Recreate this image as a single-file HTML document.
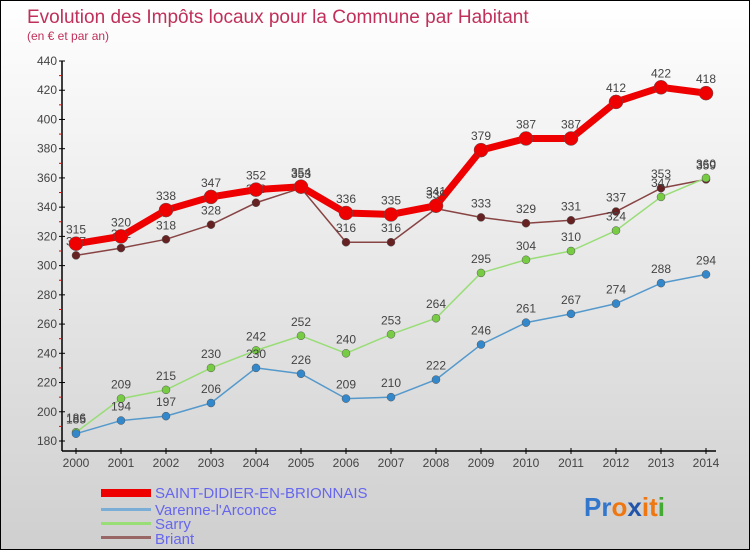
<!DOCTYPE html>
<html><head><meta charset="utf-8"><style>
body{margin:0}
#c{width:748px;height:548px;border:1px solid #000;background:linear-gradient(#fff,#cfcfcf);position:relative;font-family:"Liberation Sans",sans-serif;overflow:hidden}
</style></head><body>
<div id="c">
<svg width="748" height="548" id="svg" style="position:absolute;left:0;top:0">
<text x="26" y="22" font-size="19" fill="#c0305a">Evolution des Impôts locaux pour la Commune par Habitant</text>
<text x="26" y="39" font-size="12" fill="#c0305a">(en € et par an)</text>
<g id="axes"></g><g id="series"></g>
<g>
<rect x="100" y="488" width="50" height="8" fill="#ee0000"/>
<text x="154" y="497" font-size="15" fill="#6666ee">SAINT-DIDIER-EN-BRIONNAIS</text>
<rect x="100" y="507" width="50" height="3" fill="#7aaed6"/>
<text x="154" y="514" font-size="15" fill="#6666ee">Varenne-l'Arconce</text>
<rect x="100" y="521" width="50" height="3" fill="#99dd77"/>
<text x="154" y="528" font-size="15" fill="#6666ee">Sarry</text>
<rect x="100" y="535" width="50" height="3" fill="#996666"/>
<text x="154" y="543" font-size="15" fill="#6666ee">Briant</text>
</g>
<g font-size="26" font-weight="bold">
<text x="583" y="515"><tspan fill="#3377cc">Pr</tspan><tspan fill="#ee7711">o</tspan><tspan fill="#2255aa">x</tspan><tspan fill="#ee7711">i</tspan><tspan fill="#ee7711">t</tspan><tspan fill="#44aa33">i</tspan></text>
</g>
</svg>
</div>
<script>
const years=[2000,2001,2002,2003,2004,2005,2006,2007,2008,2009,2010,2011,2012,2013,2014];
const yTicks=[180,200,220,240,260,280,300,320,340,360,380,400,420,440];
const saintDidier=[315,320,338,347,352,354,336,335,341,379,387,387,412,422,418];
const varenne=[185,194,197,206,230,226,209,210,222,246,261,267,274,288,294];
const sarry=[186,209,215,230,242,252,240,253,264,295,304,310,324,347,360];
const briant=[307,312,318,328,343,353,316,316,339,333,329,331,337,353,359];
const NS="http://www.w3.org/2000/svg";
const X=i=>75+i*45;
const Y=v=>440-(v-180)*(380/260);
function mk(tag,attrs,parent,txt){const e=document.createElementNS(NS,tag);for(const k in attrs)e.setAttribute(k,attrs[k]);if(txt!==undefined)e.textContent=txt;parent.appendChild(e);return e;}
const ax=document.getElementById('axes');
let e=mk('line',{x1:61,y1:60,x2:61,y2:450,stroke:'#000','stroke-width':1.5},ax);


e=mk('line',{x1:61,y1:450,x2:715,y2:450,stroke:'#000','stroke-width':1.5},ax);


yTicks.forEach((t,i)=>{
  mk('line',{x1:58,y1:Y(t),x2:64,y2:Y(t),stroke:'#000'},ax);
  if(i<yTicks.length-1)mk('line',{x1:58,y1:Y(t+10),x2:61,y2:Y(t+10),stroke:'#e00'},ax);
  const l=mk('text',{x:56,y:Y(t)+4,'font-size':12,fill:'#444','text-anchor':'end'},ax,t);
  
  
});
years.forEach((y,i)=>{
  mk('line',{x1:X(i),y1:447,x2:X(i),y2:453,stroke:'#000'},ax);
  const l=mk('text',{x:X(i),y:466,'font-size':12,fill:'#444','text-anchor':'middle'},ax,y);
  
  
});
const sg=document.getElementById('series');
function draw(data,color,dot,w,r,name){
  const g=mk('g',{},sg);
  
  
  const p=mk('polyline',{points:data.map((v,i)=>X(i)+','+Y(v)).join(' '),fill:'none',stroke:color,'stroke-width':w,'stroke-linejoin':'round'},g);
  
  
  data.forEach((v,i)=>{
    const c=mk('circle',{cx:X(i),cy:Y(v),r:r,fill:dot,stroke:'#555','stroke-width':0.5},g);
    
    
    const t=mk('text',{x:X(i),y:Y(v)-10,'font-size':12,fill:'#444','text-anchor':'middle'},g,v);
    
    
  });
}
draw(briant,'#884444','#662222',1.5,4,'briant');
draw(sarry,'#99dd77','#77cc44',1.5,4,'sarry');
draw(varenne,'#5599cc','#3388cc',1.5,4,'varenne');
draw(saintDidier,'#ee0000','#ee0000',7,7,'saint-didier');
</script>
</body></html>
